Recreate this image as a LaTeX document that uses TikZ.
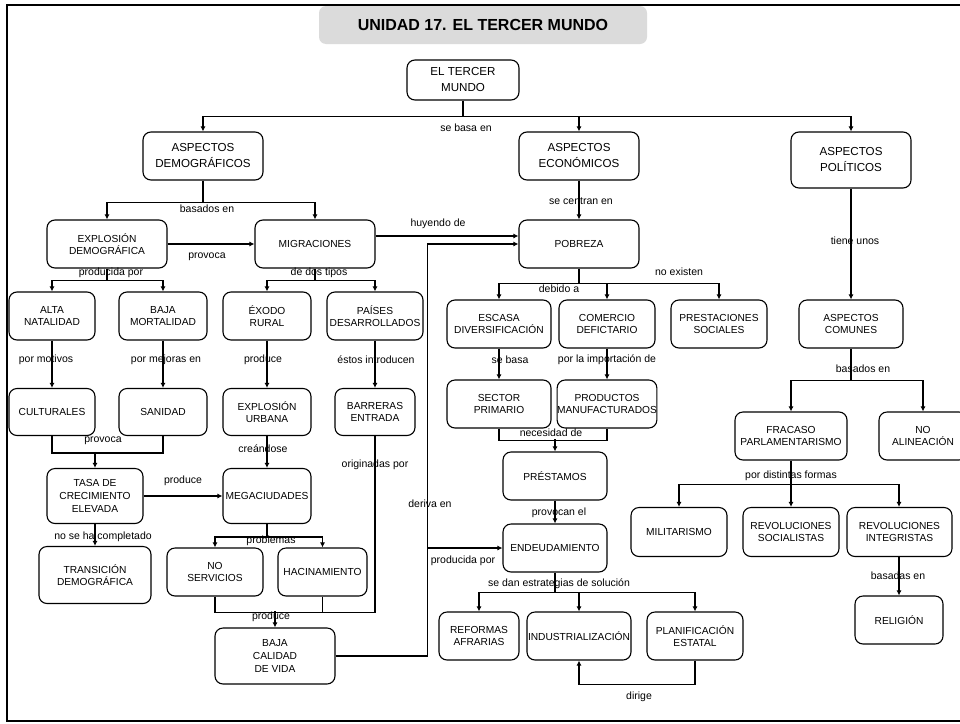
\documentclass[tikz,border=0pt]{standalone}
\usepackage{fontspec}
\setmainfont{Liberation Sans}
\usetikzlibrary{arrows.meta}
\begin{document}
\begin{tikzpicture}[x=1pt,y=-1pt,
  bx/.style={draw, line width=1.1pt, rounded corners=8pt, inner sep=0pt, align=center,
    font=\fontsize{10.2}{12.7}\selectfont},
  asp/.style={bx, font=\fontsize{11.6}{16}\selectfont},
  lbl/.style={inner sep=0pt, font=\fontsize{10.5}{12}\selectfont},
  ln/.style={line width=1.5pt},
  arr/.style={ln, -{Latex[length=5pt,width=5pt]}}]
\useasboundingbox (0,0) rectangle (960,723);
% frame and title
\node[fill=black!14, rounded corners=7pt, minimum width=328pt, minimum height=38pt, inner sep=0pt] (tbg) at (483,25) {};
\draw[line width=2.5pt] (7,5) rectangle (975,721);
\node[font=\fontsize{16}{18}\selectfont\bfseries] (title) at (483,25) {UNIDAD 17. EL TERCER MUNDO};

% nodes
\node[asp, minimum width=112pt, minimum height=40pt] (tm) at (463,80) {EL TERCER\\MUNDO};
\node[asp, minimum width=120pt, minimum height=48pt] (ad) at (203,156) {ASPECTOS\\DEMOGRÁFICOS};
\node[asp, minimum width=120pt, minimum height=48pt] (ae) at (579,156) {ASPECTOS\\ECONÓMICOS};
\node[asp, minimum width=120pt, minimum height=56pt] (ap) at (851,160) {ASPECTOS\\POLÍTICOS};

\node[bx, minimum width=120pt, minimum height=48pt] (ed) at (107,244) {EXPLOSIÓN\\DEMOGRÁFICA};
\node[bx, minimum width=120pt, minimum height=48pt] (mig) at (315,244) {MIGRACIONES};
\node[bx, minimum width=120pt, minimum height=48pt] (pob) at (579,244) {POBREZA};

\node[bx, minimum width=86pt, minimum height=48pt] (an) at (52,316) {ALTA\\NATALIDAD};
\node[bx, minimum width=88pt, minimum height=48pt] (bm) at (163,316) {BAJA\\MORTALIDAD};
\node[bx, minimum width=88pt, minimum height=48pt] (ex) at (267,316) {ÉXODO\\RURAL};
\node[bx, minimum width=96pt, minimum height=48pt] (pd) at (375,316) {PAÍSES\\DESARROLLADOS};

\node[bx, minimum width=86pt, minimum height=47pt] (cult) at (52,412) {CULTURALES};
\node[bx, minimum width=88pt, minimum height=47pt] (san) at (163,412) {SANIDAD};
\node[bx, minimum width=88pt, minimum height=47pt] (eu) at (267,412) {EXPLOSIÓN\\URBANA};
\node[bx, minimum width=80pt, minimum height=47pt] (bar) at (375,412) {BARRERAS\\ENTRADA};

\node[bx, minimum width=96pt, minimum height=55pt] (tasa) at (95,496) {TASA DE\\CRECIMIENTO\\ELEVADA};
\node[bx, minimum width=88pt, minimum height=55pt] (mega) at (267,496) {MEGACIUDADES};
\node[bx, minimum width=112pt, minimum height=57pt] (trans) at (95,575) {TRANSICIÓN\\DEMOGRÁFICA};
\node[bx, minimum width=96pt, minimum height=48pt] (ns) at (215,572) {NO\\SERVICIOS};
\node[bx, minimum width=89pt, minimum height=48pt] (hac) at (322.5,572) {HACINAMIENTO};
\node[bx, minimum width=120pt, minimum height=56pt] (baja) at (275,656) {BAJA\\CALIDAD\\DE VIDA};

\node[bx, minimum width=104pt, minimum height=48pt] (esc) at (499,324) {ESCASA\\DIVERSIFICACIÓN};
\node[bx, minimum width=96pt, minimum height=48pt] (com) at (607,324) {COMERCIO\\DEFICTARIO};
\node[bx, minimum width=96pt, minimum height=48pt] (pres) at (719,324) {PRESTACIONES\\SOCIALES};
\node[bx, minimum width=104pt, minimum height=48pt] (sp) at (499,404) {SECTOR\\PRIMARIO};
\node[bx, minimum width=96pt, minimum height=48pt] (pm) at (607,404) {PRODUCTOS\\MANUFACTURADOS};
\node[bx, minimum width=104pt, minimum height=48pt] (prest) at (555,476) {PRÉSTAMOS};
\node[bx, minimum width=104pt, minimum height=48pt] (end) at (555,548) {ENDEUDAMIENTO};
\node[bx, minimum width=80pt, minimum height=48pt] (ref) at (479,636) {REFORMAS\\AFRARIAS};
\node[bx, minimum width=104pt, minimum height=48pt] (ind) at (579,636) {INDUSTRIALIZACIÓN};
\node[bx, minimum width=96pt, minimum height=48pt] (plan) at (695,636) {PLANIFICACIÓN\\ESTATAL};

\node[bx, minimum width=104pt, minimum height=48pt] (acom) at (851,324) {ASPECTOS\\COMUNES};
\node[bx, minimum width=112pt, minimum height=48pt] (fra) at (791,436) {FRACASO\\PARLAMENTARISMO};
\node[bx, minimum width=88pt, minimum height=48pt] (noal) at (923,436) {NO\\ALINEACIÓN};
\node[bx, minimum width=96pt, minimum height=49pt] (mil) at (679,532) {MILITARISMO};
\node[bx, minimum width=96pt, minimum height=49pt] (rs) at (791,532) {REVOLUCIONES\\SOCIALISTAS};
\node[bx, minimum width=105pt, minimum height=49pt] (ri) at (899.5,532) {REVOLUCIONES\\INTEGRISTAS};
\node[bx, minimum width=88pt, minimum height=48pt] (rel) at (899,620) {RELIGIÓN};

% connectors
\draw[ln] (tm.south) -- ++(0,16) coordinate (j1);
\draw[arr] (j1) -| (ad.north);
\draw[arr] (j1) -| (ae.north);
\draw[arr] (j1) -| (ap.north);

\draw[ln] (ad.south) -- ++(0,22) coordinate (j2);
\draw[arr] (j2) -| (ed.north);
\draw[arr] (j2) -| (mig.north);

\draw[arr] (ed.east) -- (mig.west);
\draw[arr] ([yshift=8pt]mig.east) -- ([yshift=8pt]pob.west);
\draw[arr] (ae.south) -- (pob.north);

\draw[ln] (ed.south) -- ++(0,12) coordinate (j3);
\draw[arr] (j3) -| (an.north);
\draw[arr] (j3) -| (bm.north);
\draw[ln] (mig.south) -- ++(0,12) coordinate (j4);
\draw[arr] (j4) -| (ex.north);
\draw[arr] (j4) -| (pd.north);

\draw[arr] (an.south) -- (cult.north);
\draw[arr] (bm.south) -- (san.north);
\draw[arr] (ex.south) -- (eu.north);
\draw[arr] (pd.south) -- (bar.north);

\draw[ln] (cult.south) -- ++(0,17) -| (san.south);
\draw[arr] (tasa.north) ++(0,-16) -- (tasa.north);
\draw[arr] (tasa.east) -- (mega.west);
\draw[arr] (eu.south) -- (mega.north);
\draw[arr] (tasa.south) -- (trans.north);

\draw[ln] (mega.south) -- ++(0,13) coordinate (j5);
\draw[arr] (j5) -| (ns.north);
\draw[arr] (j5) -| (hac.north);

\draw[ln] (ns.south) -- ++(0,16) coordinate (j6) -- (j6 -| bar.south) -- (bar.south);
\draw[ln] (hac.south) -- (hac.south |- j6);
\draw[arr] (baja.north) ++(0,-16) -- (baja.north);

\draw[ln] (baja.east) -- ++(92,0) coordinate (j7);
\draw[arr] (j7) |- (pob.west);
\draw[arr] (j7 |- end.west) -- (end.west);

\draw[ln] (pob.south) -- ++(0,15) coordinate (j8);
\draw[arr] (j8) -| (esc.north);
\draw[arr] (j8) -| (com.north);
\draw[arr] (j8) -| (pres.north);

\draw[arr] (esc.south) -- (sp.north);
\draw[arr] (com.south) -- (pm.north);
\draw[ln] (sp.south) -- ++(0,12) -| (pm.south);
\draw[arr] (prest.north) ++(0,-12) -- (prest.north);
\draw[arr] (prest.south) -- (end.north);

\draw[ln] (end.south) -- ++(0,20) coordinate (j9);
\draw[arr] (j9) -| (ref.north);
\draw[arr] (j9) -| (ind.north);
\draw[arr] (j9) -| (plan.north);
\draw[arr] (plan.south) -- ++(0,24) -| (ind.south);

\draw[arr] (ap.south) -- (acom.north);
\draw[ln] (acom.south) -- ++(0,32) coordinate (j10);
\draw[arr] (j10) -| (fra.north);
\draw[arr] (j10) -| (noal.north);
\draw[ln] (fra.south) -- ++(0,24) coordinate (j11);
\draw[arr] (j11) -| (mil.north);
\draw[arr] (j11) -| (rs.north);
\draw[arr] (j11) -| ([xshift=-0.5pt]ri.north);
\draw[arr] ([xshift=-0.5pt]ri.south) -- (rel.north);

% labels
\node[lbl] (l1) at (466,128) {se basa en};
\node[lbl] (l2) at (207,209) {basados en};
\node[lbl] (l3) at (438,224) {huyendo de};
\node[lbl] (l4) at (581,201) {se centran en};
\node[lbl] (l5) at (207,257) {provoca};
\node[lbl] (l6) at (111,273) {producida por};
\node[lbl] (l7) at (319,273) {de dos tipos};
\node[lbl] (l8) at (46,360) {por motivos};
\node[lbl] (l9) at (166,360) {por mejoras en};
\node[lbl] (l10) at (263,360) {produce};
\node[lbl] (l11) at (376,360) {éstos introducen};
\node[lbl] (l12) at (103,441) {provoca};
\node[lbl] (l13) at (263,449) {creándose};
\node[lbl] (l14) at (375,465) {originadas por};
\node[lbl] (l15) at (183,481) {produce};
\node[lbl] (l16) at (430,504) {deriva en};
\node[lbl] (l17) at (103,537) {no se ha completado};
\node[lbl] (l18) at (271,541) {problemas};
\node[lbl] (l19) at (463,561) {producida por};
\node[lbl] (l20) at (271,617) {produce};
\node[lbl] (l21) at (559,289) {debido a};
\node[lbl] (l22) at (679,272) {no existen};
\node[lbl] (l23) at (855,241) {tiene unos};
\node[lbl] (l24) at (510,360) {se basa};
\node[lbl] (l25) at (607,360) {por la importación de};
\node[lbl] (l26) at (863,369) {basados en};
\node[lbl] (l27) at (551,433) {necesidad de};
\node[lbl] (l28) at (559,513) {provocan el};
\node[lbl] (l29) at (791,476) {por distintas formas};
\node[lbl] (l30) at (559,584) {se dan estrategias de solución};
\node[lbl] (l31) at (898,576) {basadas en};
\node[lbl] (l32) at (639,697) {dirige};
\end{tikzpicture}
\end{document}
